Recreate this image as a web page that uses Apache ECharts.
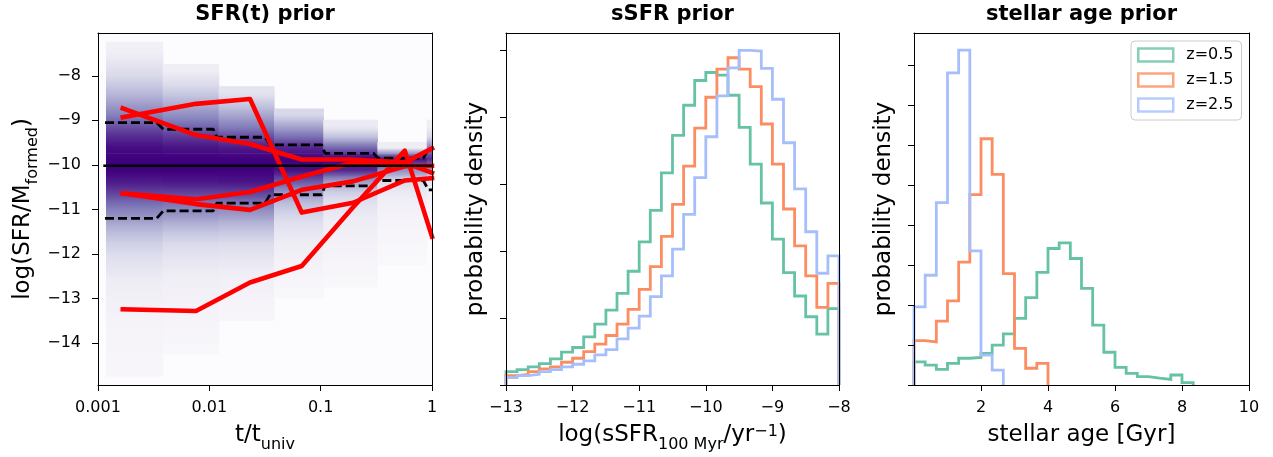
<!DOCTYPE html>
<html><head><meta charset="utf-8">
<script src="https://cdn.jsdelivr.net/npm/echarts@6/dist/echarts.min.js"></script>
<style>html,body{margin:0;padding:0;background:#fff}#c{width:1273px;height:457px}</style>
</head><body><div id="c"></div>
<script>
// ================= DATA =================
// Panel 1: SFR(t) prior -- 2D density (column bins in t/t_univ, rows in log sSFR)
const sfrTimeBinEdges = [0.00118, 0.00381, 0.01213, 0.0381, 0.1056, 0.323, 0.897, 1.05];
const densLogBinStart = -14.75;
const densLogBinWidth = 0.25;
// colour level (0..1) per row, bottom (-14.75) to top (-7.25)
const densCol1 = [0.05,0.05,0.06,0.06,0.07,0.08,0.09,0.11,0.13,0.17,0.21,0.27,0.34,0.43,0.55,0.67,0.80,0.92,1.00,1.00,0.96,0.86,0.74,0.60,0.48,0.38,0.29,0.22,0.15,0.10];
const densCol2 = [0,0,0.04,0.05,0.06,0.07,0.08,0.09,0.11,0.14,0.18,0.23,0.30,0.40,0.52,0.65,0.80,0.93,1.00,1.00,0.94,0.82,0.68,0.54,0.42,0.31,0.21,0.12,0,0];
const densCol3 = [0,0,0,0,0,0.05,0.06,0.08,0.10,0.13,0.17,0.22,0.29,0.38,0.50,0.64,0.80,0.94,1.00,1.00,0.92,0.76,0.60,0.45,0.32,0.19,0,0,0,0];
const densCol4 = [0,0,0,0,0,0,0,0.04,0.05,0.07,0.09,0.12,0.15,0.20,0.27,0.37,0.52,0.74,0.95,1.00,0.88,0.66,0.45,0.26,0,0,0,0,0,0];
const densCol5 = [0,0,0,0,0,0,0,0,0.04,0.05,0.06,0.08,0.10,0.12,0.15,0.20,0.30,0.50,0.88,1.00,0.68,0.35,0.14,0,0,0,0,0,0,0];
const densCol6 = [0,0,0,0,0,0,0,0,0,0,0.03,0.04,0.05,0.06,0.08,0.10,0.15,0.25,0.55,0.95,0.12,0,0,0,0,0,0,0,0,0];
const densCol7 = [0,0,0,0,0,0,0,0,0,0,0,0,0,0,0.05,0.07,0.10,0.18,0.50,0.85,0.60,0.25,0.12,0,0,0,0,0,0,0];
const densColumns = [densCol1, densCol2, densCol3, densCol4, densCol5, densCol6, densCol7];

// example SFH draws (red)
const sfrSampleT = [0.00167, 0.00759, 0.0232, 0.0676, 0.1954, 0.57, 1.0];
const sfrSampleA = [-8.93, -8.63, -8.52, -11.07, -10.85, -10.35, -10.30];
const sfrSampleB = [-8.73, -9.33, -9.53, -9.88, -9.88, -9.95, -10.18];
const sfrSampleC = [-10.64, -10.77, -10.61, -10.26, -9.95, -9.95, -9.63];
const sfrSampleD = [-10.64, -10.88, -11.01, -10.56, -10.37, -10.03, -10.02];
const sfrSampleE = [-13.24, -13.28, -12.64, -12.27, -10.95, -9.68, -11.61];

// percentile (dashed) and median (solid) curves
const pctT = [0.001156, 0.003366, 0.003862, 0.01086, 0.01165, 0.0316, 0.0351, 0.1021, 0.1093, 0.2971, 0.3296, 0.836, 0.927, 1.0];
const pctHigh = [-9.05,-9.05,-9.20,-9.20,-9.38,-9.38,-9.55,-9.55,-9.74,-9.74,-9.85,-9.85,-9.64,-9.64];
const pctLow = [-11.20,-11.20,-11.03,-11.03,-10.86,-10.86,-10.67,-10.67,-10.47,-10.47,-10.35,-10.35,-10.56,-10.56];
const medianT = [0.001116, 1.0];
const medianVal = [-10.02, -10.02];

// Panel 2: sSFR prior histograms
const ssfrBinStart = -13;
const ssfrBinWidth = 1 / 6;
const ssfrZ05 = [0.20,0.23,0.27,0.32,0.39,0.49,0.56,0.72,0.91,1.12,1.37,1.70,2.14,2.61,3.17,3.73,4.18,4.55,4.67,4.63,4.33,3.85,3.30,2.72,2.18,1.68,1.33,1.02,0.76,1.14];
const ssfrZ15 = [0.14,0.16,0.20,0.24,0.27,0.34,0.40,0.50,0.61,0.74,0.91,1.13,1.43,1.77,2.22,2.70,3.27,3.84,4.30,4.72,4.89,4.72,4.46,3.90,3.30,2.63,2.08,1.63,1.16,1.52];
const ssfrZ25 = [0.11,0.14,0.16,0.20,0.23,0.27,0.31,0.36,0.45,0.53,0.69,0.85,1.03,1.32,1.63,2.03,2.55,3.10,3.71,4.32,4.74,5.00,4.99,4.73,4.27,3.62,2.93,2.29,1.67,1.93];

// Panel 3: stellar age prior histograms
const ageBinStart = 0;
const ageBinWidth = 1 / 3;
const ageZ05 = [0.58,0.50,0.39,0.54,0.67,0.69,0.79,1.00,1.28,1.67,2.19,2.82,3.42,3.56,3.17,2.42,1.50,0.82,0.44,0.29,0.21,0.17,0.14,0.25,0.06];
const ageZ15 = [1.11,1.08,1.60,2.11,3.08,4.77,6.17,5.28,2.79,0.92,0.42,0.54];
const ageZ25 = [1.96,2.75,4.57,7.82,8.39,3.36,0.75,0.375];

const zNames = ['z=0.5', 'z=1.5', 'z=2.5'];

// tick labels
const sfrYTicks = [-14, -13, -12, -11, -10, -9, -8];
const ssfrXTicks = [-13, -12, -11, -10, -9, -8];
const ssfrYTicks = [0, 1, 2, 3, 4, 5];
const ageXTicks = [2, 4, 6, 8, 10];
const ageYTicks = [0, 1, 2, 3, 4, 5, 6, 7, 8];

// ================= STYLE / BUILD =================
const F = '"DejaVu Sans", sans-serif';
const zColors = ['#66c2a5', '#fc8d62', '#a6bffb'];
const PURPLES = ['#fcfbfd','#efedf5','#dadaeb','#bcbddc','#9e9ac8','#807dba','#6a51a3','#54278f','#3f007d'];
function hexRgb(h){ return [parseInt(h.slice(1,3),16), parseInt(h.slice(3,5),16), parseInt(h.slice(5,7),16)]; }
function purple(v){
  v = Math.max(0, Math.min(1, v));
  const p = v * 8, i = Math.min(7, Math.floor(p)), f = p - i;
  const a = hexRgb(PURPLES[i]), b = hexRgb(PURPLES[i+1]);
  return 'rgb(' + a.map((c,k)=>Math.round(c + (b[k]-c)*f)).join(',') + ')';
}
const heatCells = [];
densColumns.forEach((col, c) => {
  col.forEach((v, k) => {
    if (v > 0) {
      const below = k > 0 && col[k-1] > 0 ? col[k-1] : v;
      const above = k < col.length - 1 && col[k+1] > 0 ? col[k+1] : v;
      heatCells.push([sfrTimeBinEdges[c], sfrTimeBinEdges[c+1],
        densLogBinStart + k*densLogBinWidth, densLogBinStart + (k+1)*densLogBinWidth, v, below, above]);
    }
  });
});
function stepPts(start, width, vals){
  const pts = [[start, 0]];
  vals.forEach((v, i) => { pts.push([start + i*width, v]); pts.push([start + (i+1)*width, v]); });
  pts.push([start + vals.length*width, 0]);
  return pts;
}
const zip = (xs, ys) => xs.map((x, i) => [x, ys[i]]);
const minus = v => (v < 0 ? '\u2212' + Math.abs(v) : String(v));

const G = [
  {left: 98, top: 33, width: 334, height: 352},
  {left: 506, top: 33, width: 333, height: 352},
  {left: 914, top: 33, width: 335, height: 352}
];
const axLine = {show: true, onZero: false, lineStyle: {color: '#000', width: 1}};
const tick = {show: true, inside: false, length: 6, lineStyle: {color: '#000', width: 1}};
const lab = {show: true, color: '#000', fontSize: 16, fontFamily: F};
function frameX(g){ return {gridIndex: g, type: 'value', position: 'top', min: 0, max: 1, z: 10,
  axisLine: axLine, axisTick: {show: false}, axisLabel: {show: false}, splitLine: {show: false}}; }
function frameY(g){ return {gridIndex: g, type: 'value', position: 'right', min: 0, max: 1, z: 10,
  axisLine: axLine, axisTick: {show: false}, axisLabel: {show: false}, splitLine: {show: false}}; }

const xAxis = [
  {gridIndex: 0, type: 'log', logBase: 10, min: 0.001, max: 1, position: 'bottom', z: 10,
   axisLine: axLine, axisTick: tick, minorTick: {show: false}, splitLine: {show: false},
   axisLabel: Object.assign({}, lab, {margin: 15, formatter: v => String(+Number(v).toPrecision(6))})},
  frameX(0),
  {gridIndex: 1, type: 'value', min: -13, max: -8, interval: 1, position: 'bottom', z: 10,
   axisLine: axLine, axisTick: Object.assign({}, tick, {customValues: ssfrXTicks}), splitLine: {show: false},
   axisLabel: Object.assign({}, lab, {margin: 15, customValues: ssfrXTicks, formatter: minus})},
  frameX(1),
  {gridIndex: 2, type: 'value', min: 0, max: 10, position: 'bottom', z: 10,
   axisLine: axLine, axisTick: Object.assign({}, tick, {customValues: ageXTicks}), splitLine: {show: false},
   axisLabel: Object.assign({}, lab, {margin: 15, customValues: ageXTicks, formatter: minus})},
  frameX(2)
];
const yAxis = [
  {gridIndex: 0, type: 'value', min: -14.94, max: -7.04, position: 'left', z: 10,
   axisLine: axLine, axisTick: Object.assign({}, tick, {customValues: sfrYTicks}), splitLine: {show: false},
   axisLabel: Object.assign({}, lab, {margin: 17, customValues: sfrYTicks, formatter: minus})},
  frameY(0),
  {gridIndex: 1, type: 'value', min: 0, max: 5.26, position: 'left', z: 10,
   axisLine: axLine, axisTick: Object.assign({}, tick, {customValues: ssfrYTicks}), splitLine: {show: false},
   axisLabel: {show: false}},
  frameY(1),
  {gridIndex: 2, type: 'value', min: 0, max: 8.82, position: 'left', z: 10,
   axisLine: axLine, axisTick: Object.assign({}, tick, {customValues: ageYTicks}), splitLine: {show: false},
   axisLabel: {show: false}},
  frameY(2)
];

const series = [];
series.push({
  type: 'custom', name: 'density', xAxisIndex: 0, yAxisIndex: 0, clip: true, z: 1, silent: true,
  data: heatCells, encode: {x: [0, 1], y: [2, 3]},
  renderItem: (params, api) => {
    const a = api.coord([api.value(0), api.value(3)]);
    const b = api.coord([api.value(1), api.value(2)]);
    const v = api.value(4);
    const cBottom = purple((v + api.value(5)) / 2), cMid = purple(v), cTop = purple((v + api.value(6)) / 2);
    return {type: 'rect', shape: {x: a[0], y: a[1] - 0.6, width: b[0] - a[0] + 0.6, height: b[1] - a[1] + 0.6},
      style: {fill: {type: 'linear', x: 0, y: 0, x2: 0, y2: 1, global: false,
        colorStops: [{offset: 0, color: cTop}, {offset: 0.5, color: cMid}, {offset: 1, color: cBottom}]}}};
  }
});
[pctHigh, pctLow].forEach((arr, i) => series.push({
  type: 'line', name: 'pct' + i, xAxisIndex: 0, yAxisIndex: 0, z: 3, symbol: 'none', silent: true,
  data: zip(pctT, arr), lineStyle: {color: '#000', width: 2.8, type: [9, 4]}
}));
[sfrSampleA, sfrSampleB, sfrSampleC, sfrSampleD, sfrSampleE].forEach((arr, i) => series.push({
  type: 'line', name: 'draw' + i, xAxisIndex: 0, yAxisIndex: 0, z: 4, symbol: 'none', silent: true,
  data: zip(sfrSampleT, arr), lineStyle: {color: '#ff0000', width: 4.6, join: 'round', cap: 'square'}
}));
series.push({
  type: 'line', name: 'median', xAxisIndex: 0, yAxisIndex: 0, z: 5, symbol: 'none', silent: true,
  data: zip(medianT, medianVal), lineStyle: {color: '#000', width: 2.6}
});
[ssfrZ05, ssfrZ15, ssfrZ25].forEach((arr, i) => series.push({
  type: 'line', name: 'ssfr ' + zNames[i], xAxisIndex: 2, yAxisIndex: 2, z: 3, symbol: 'none', silent: true,
  data: stepPts(ssfrBinStart, ssfrBinWidth, arr), lineStyle: {color: zColors[i], width: 2.8, join: 'miter'}
}));
[ageZ05, ageZ15, ageZ25].forEach((arr, i) => series.push({
  type: 'line', name: 'age ' + zNames[i], xAxisIndex: 4, yAxisIndex: 4, z: 3, symbol: 'none', silent: true,
  data: stepPts(ageBinStart, ageBinWidth, arr), lineStyle: {color: zColors[i], width: 2.8, join: 'miter'}
}));
// legend holders (no data)
zNames.forEach((n, i) => series.push({
  type: 'scatter', name: n, xAxisIndex: 4, yAxisIndex: 4, data: [],
  itemStyle: {color: '#fff', borderColor: zColors[i], borderWidth: 2.5}
}));

function txt(x, y, text, size, opts){
  return Object.assign({type: 'text', x: x, y: y, z: 100, silent: true,
    style: {text: text, fill: '#000', font: size + 'px ' + F, fontSize: size, fontFamily: F,
      textAlign: 'center', textVerticalAlign: 'middle', align: 'center', verticalAlign: 'middle'}}, opts || {});
}
function richTxt(x, y, text, rot){
  const e = txt(x, y, text, 23, rot ? {rotation: Math.PI / 2} : {});
  e.style.rich = {
    m: {fontSize: 23, fontFamily: F, lineHeight: 26, verticalAlign: 'top', fill: '#000', color: '#000'},
    s: {fontSize: 16, fontFamily: F, lineHeight: 16, verticalAlign: 'top', padding: [13, 0, 0, 0], fill: '#000', color: '#000'},
    u: {fontSize: 16, fontFamily: F, lineHeight: 16, verticalAlign: 'top', padding: [0, 0, 0, 0], fill: '#000', color: '#000'}
  };
  return e;
}
const titleEl = (x, t) => { const e = txt(x, 15, t, 21); e.style.font = 'bold 21px ' + F; e.style.fontWeight = 'bold'; return e; };

const option = {
  animation: false,
  backgroundColor: '#ffffff',
  textStyle: {fontFamily: F},
  grid: G.map((g, i) => Object.assign({}, g, {containLabel: false, outerBoundsMode: 'none',
    show: i === 0, backgroundColor: '#fcfbfd', borderWidth: 0})),
  xAxis: xAxis,
  yAxis: yAxis,
  legend: {
    show: true, orient: 'vertical', left: 1131, top: 41,
    itemWidth: 35, itemHeight: 13, itemGap: 9,
    padding: [6, 8, 7, 6],
    backgroundColor: 'rgba(255,255,255,0.8)', borderColor: '#cccccc', borderWidth: 1, borderRadius: 4,
    textStyle: {fontSize: 16, fontFamily: F, color: '#000', padding: [0, 0, 0, 8]},
    selectedMode: false,
    data: zNames.map((n, i) => ({name: n, icon: 'rect',
      itemStyle: {color: '#ffffff', borderColor: zColors[i], borderWidth: 2.5}}))
  },
  graphic: {elements: [
    titleEl(265, 'SFR(t) prior'),
    titleEl(672.5, 'sSFR prior'),
    titleEl(1081.5, 'stellar age prior'),
    richTxt(265, 437, '{m|t/t}{s|univ}'),
    richTxt(672.5, 437, '{m|log(sSFR}{s|100 Myr}{m|/yr}{u|\u22121}{m|)}'),
    richTxt(1081.5, 437, '{m|stellar age [Gyr]}'),
    richTxt(25, 209, '{m|log(SFR/M}{s|formed}{m|)}', true),
    richTxt(478, 209, '{m|probability density}', true),
    richTxt(886, 209, '{m|probability density}', true)
  ]},
  series: series
};
const chart = echarts.init(document.getElementById('c'), null, {renderer: 'canvas'});
chart.setOption(option);
</script>
</body></html>
